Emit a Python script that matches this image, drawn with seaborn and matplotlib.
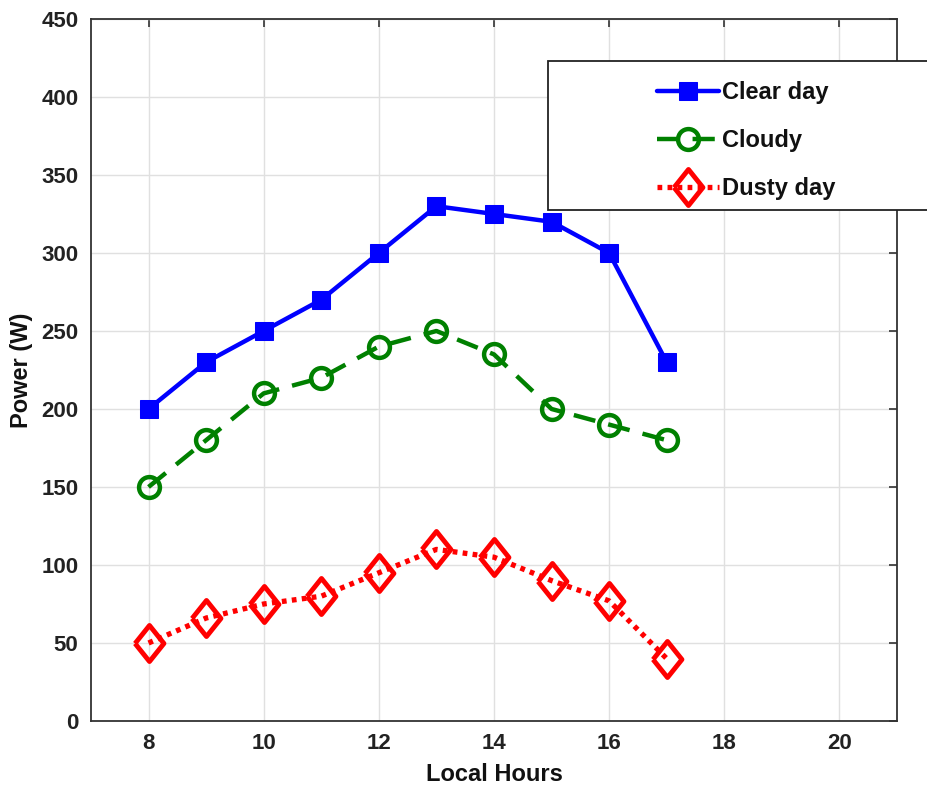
import matplotlib
matplotlib.use("Agg")
import matplotlib.pyplot as plt
import seaborn as sns
from matplotlib.patches import Rectangle

hours = [8, 9, 10, 11, 12, 13, 14, 15, 16, 17]
clear_day = [200, 230, 250, 270, 300, 330, 325, 320, 300, 230]
cloudy = [150, 180, 210, 220, 240, 250, 235, 200, 190, 180]
dusty_day = [50, 66, 75, 80, 95, 110, 105, 90, 77, 40]
x_ticks = [8, 10, 12, 14, 16, 18, 20]
y_ticks = [0, 50, 100, 150, 200, 250, 300, 350, 400, 450]

sns.set_theme(style="white")
plt.rcParams['font.family'] = ['Liberation Sans', 'DejaVu Sans']

fig = plt.figure(figsize=(9.28, 7.91), dpi=100)
ax = fig.add_axes([0.098, 0.0885, 0.8686, 0.8875])

diamond = [(-0.8, 0), (0, 1), (0.8, 0), (0, -1), (-0.8, 0)]

sns.lineplot(x=hours, y=clear_day, ax=ax, color="#0000ff", linewidth=3.2,
             marker="s", markersize=13, markeredgecolor="#0000ff", label="Clear day")
sns.lineplot(x=hours, y=cloudy, ax=ax, color="#008000", linewidth=3.2,
             marker="o", markersize=15, markerfacecolor="none", markeredgewidth=3.2,
             markeredgecolor="#008000", dashes=(5, 3), label="Cloudy")
sns.lineplot(x=hours, y=dusty_day, ax=ax, color="#ff0000", linewidth=3.8,
             marker=diamond, markersize=26, markerfacecolor="none", markeredgewidth=3.5,
             markeredgecolor="#ff0000", dashes=(0.9, 1.0), label="Dusty day")

ax.set_xlim(7, 21)
ax.set_ylim(0, 450)
ax.set_xticks(x_ticks)
ax.set_yticks(y_ticks)
ax.grid(True, color="#e0e0e0", linewidth=1.0)
ax.tick_params(direction="in", length=6, width=1.2, color="#333333",
               top=True, right=True, labelsize=16, labelcolor="#222222", pad=9)
for lbl in ax.get_xticklabels() + ax.get_yticklabels():
    lbl.set_fontweight("bold")
for s in ax.spines.values():
    s.set_visible(True)
    s.set_color("#333333")
    s.set_linewidth(1.3)
ax.set_xlabel("Local Hours", fontsize=17, fontweight="bold", color="#111111", labelpad=6)
ax.set_ylabel("Power (W)", fontsize=17, fontweight="bold", color="#111111", labelpad=6)

# legend box (extends past the figure edge as in the reference)
rect = Rectangle((548 / 928, 1 - 210 / 791), 0.45, 149 / 791, transform=fig.transFigure,
                 facecolor="white", edgecolor="#222222", linewidth=1.3, zorder=5,
                 clip_on=False)
ax.add_patch(rect)
leg = ax.legend(loc="upper left", bbox_to_anchor=(636 / 928, 1 - 60 / 791),
                bbox_transform=fig.transFigure, frameon=False, handlelength=2.6,
                handletextpad=0.15, labelspacing=1.05, prop={"weight": "bold", "size": 17})
leg.set_zorder(6)
for t in leg.get_texts():
    t.set_color("#111111")

fig.savefig("out.png", dpi=100)
